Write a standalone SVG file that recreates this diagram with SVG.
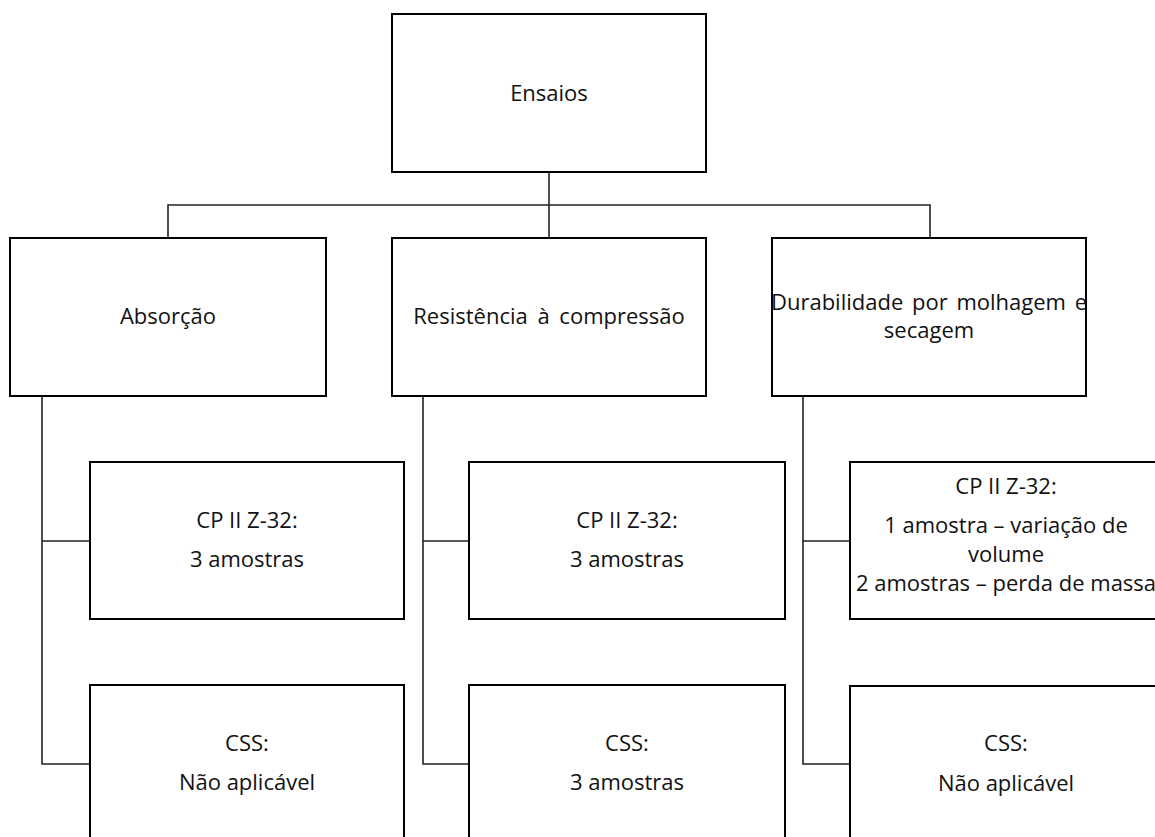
<svg xmlns="http://www.w3.org/2000/svg" width="1155" height="837" viewBox="0 0 1155 837">
<style>
.box{fill:#fff;stroke:#000;stroke-width:2}
.ln{fill:none;stroke:#222;stroke-width:1.6}
text{font-family:"Open Sans","Noto Sans",sans-serif;font-size:22px;fill:#111;text-anchor:middle}
</style>
<rect width="1155" height="837" fill="#fff"/>
<g id="connectors">
<path class="ln" d="M549 172V238" stroke-width="2.2"/>
<path class="ln" d="M168 238V205H930V238"/>
<path class="ln" d="M42 396V764H90M42 541H90"/>
<path class="ln" d="M423 396V764H469M423 541H469"/>
<path class="ln" d="M803 396V764H850M803 541H850"/>
</g>
<g id="ensaios"><rect class="box" x="392" y="14" width="314" height="158"/><text x="549" y="101">Ensaios</text></g>
<g id="absorcao"><rect class="box" x="10" y="238" width="316" height="158"/><text x="168" y="324">Absorção</text></g>
<g id="resistencia"><rect class="box" x="392" y="238" width="314" height="158"/><text x="549" y="324" word-spacing="4">Resistência à compressão</text></g>
<g id="durabilidade"><rect class="box" x="772" y="238" width="314" height="158"/><text x="929" y="310" word-spacing="3">Durabilidade por molhagem e</text><text x="929" y="338">secagem</text></g>
<g id="abs-cp"><rect class="box" x="90" y="462" width="314" height="157"/><text x="247" y="528">CP II Z-32:</text><text x="247" y="567">3 amostras</text></g>
<g id="abs-css"><rect class="box" x="90" y="685" width="314" height="170"/><text x="247" y="751">CSS:</text><text x="247" y="790">Não aplicável</text></g>
<g id="res-cp"><rect class="box" x="469" y="462" width="316" height="157"/><text x="627" y="528">CP II Z-32:</text><text x="627" y="567">3 amostras</text></g>
<g id="res-css"><rect class="box" x="469" y="685" width="316" height="170"/><text x="627" y="751">CSS:</text><text x="627" y="790">3 amostras</text></g>
<g id="dur-cp"><rect class="box" x="850" y="462" width="315" height="157"/><text x="1006" y="494">CP II Z-32:</text><text x="1006" y="533">1 amostra – variação de</text><text x="1006" y="562">volume</text><text x="1006" y="591">2 amostras – perda de massa</text></g>
<g id="dur-css"><rect class="box" x="850" y="686" width="315" height="170"/><text x="1006" y="751">CSS:</text><text x="1006" y="791">Não aplicável</text></g>
</svg>
